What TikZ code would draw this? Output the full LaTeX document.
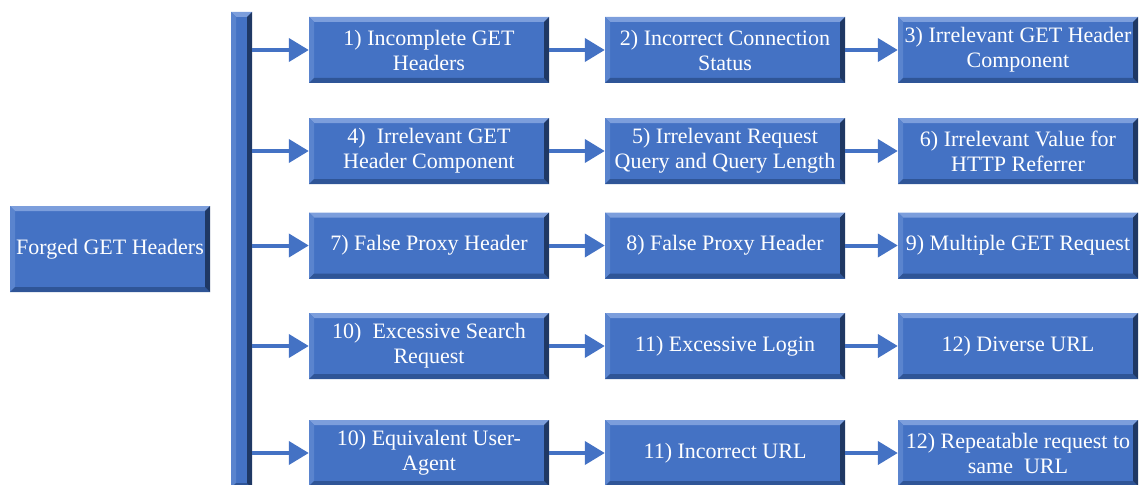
\documentclass[tikz,border=0pt]{standalone}
\usepackage{fontspec}
\setmainfont{Liberation Serif}
\usetikzlibrary{arrows.meta}

\definecolor{boxblue}{HTML}{4472C4}
\definecolor{bevtop}{HTML}{7C9EDC}
\definecolor{bevleft}{HTML}{5A84CE}
\definecolor{bevbot}{HTML}{2F5597}
\definecolor{bevright}{HTML}{1F3864}

\tikzset{
  bevel/.style={path picture={
    \coordinate (pnw) at (path picture bounding box.north west);
    \coordinate (pne) at (path picture bounding box.north east);
    \coordinate (psw) at (path picture bounding box.south west);
    \coordinate (pse) at (path picture bounding box.south east);
    \fill [bevtop] (pnw) -- (pne) -- ([xshift=-5pt,yshift=-5pt]pne) -- ([xshift=5pt,yshift=-5pt]pnw) -- cycle;
    \fill [bevleft] (pnw) -- (psw) -- ([xshift=5pt,yshift=5pt]psw) -- ([xshift=5pt,yshift=-5pt]pnw) -- cycle;
    \fill [bevbot] (psw) -- (pse) -- ([xshift=-5pt,yshift=5pt]pse) -- ([xshift=5pt,yshift=5pt]psw) -- cycle;
    \fill [bevright] (pne) -- (pse) -- ([xshift=-5pt,yshift=5pt]pse) -- ([xshift=-5pt,yshift=-5pt]pne) -- cycle;
  }},
  gbox/.style={fill=boxblue, bevel, text=white, align=center, inner sep=2pt,
    minimum width=240pt, minimum height=66pt, font=\fontsize{22}{25}\selectfont},
  barbox/.style={fill=boxblue, bevel, inner sep=0pt, minimum width=21pt, minimum height=476pt},
  link/.style={->, >={Triangle[length=20pt,width=23pt]}, color=boxblue, line width=4pt}
}

\begin{document}
\begin{tikzpicture}[x=1pt, y=-1pt]
    \useasboundingbox (0,0) rectangle (1139,484);
    \clip (0,0) rectangle (1139,484);
    % root and spine
    \node (forged) at (110,249) [gbox, minimum width=200pt, minimum height=86pt] {Forged GET Headers};
    \node (bar) at (241.5,250) [barbox] {};
    % row 1
    \node (r1c1) at (429,50) [gbox] {1) Incomplete GET\\Headers};
    \node (r1c2) at (725,50) [gbox] {2) Incorrect Connection\\Status};
    \node (r1c3) at (1018,50) [gbox] {3) Irrelevant GET Header\\Component};
    % row 2
    \node (r2c1) at (429,151) [gbox] {4)\ \ Irrelevant GET\\Header Component};
    \node (r2c2) at (725,151) [gbox] {5) Irrelevant Request\\Query and Query Length};
    \node (r2c3) at (1018,151) [gbox] {6) Irrelevant Value for\\HTTP Referrer};
    % row 3
    \node (r3c1) at (429,245.5) [gbox] {7) False Proxy Header};
    \node (r3c2) at (725,245.5) [gbox] {8) False Proxy Header};
    \node (r3c3) at (1018,245.5) [gbox] {9) Multiple GET Request};
    % row 4
    \node (r4c1) at (429,346) [gbox] {10)\ \ Excessive Search\\Request};
    \node (r4c2) at (725,346) [gbox] {11) Excessive Login};
    \node (r4c3) at (1018,346) [gbox] {12) Diverse URL};
    % row 5
    \node (r5c1) at (429,453) [gbox] {10) Equivalent User-\\Agent};
    \node (r5c2) at (725,453) [gbox] {11) Incorrect URL};
    \node (r5c3) at (1018,453) [gbox] {12) Repeatable request to\\same\ \ URL};
    % arrows off the spine
    \draw [link] (bar.east |- r1c1) -- (r1c1.west);
    \draw [link] (bar.east |- r2c1) -- (r2c1.west);
    \draw [link] (bar.east |- r3c1) -- (r3c1.west);
    \draw [link] (bar.east |- r4c1) -- (r4c1.west);
    \draw [link] (bar.east |- r5c1) -- (r5c1.west);
    % arrows along the rows
    \draw [link] (r1c1.east) -- (r1c2.west);
    \draw [link] (r1c2.east) -- (r1c3.west);
    \draw [link] (r2c1.east) -- (r2c2.west);
    \draw [link] (r2c2.east) -- (r2c3.west);
    \draw [link] (r3c1.east) -- (r3c2.west);
    \draw [link] (r3c2.east) -- (r3c3.west);
    \draw [link] (r4c1.east) -- (r4c2.west);
    \draw [link] (r4c2.east) -- (r4c3.west);
    \draw [link] (r5c1.east) -- (r5c2.west);
    \draw [link] (r5c2.east) -- (r5c3.west);
\end{tikzpicture}
\end{document}
